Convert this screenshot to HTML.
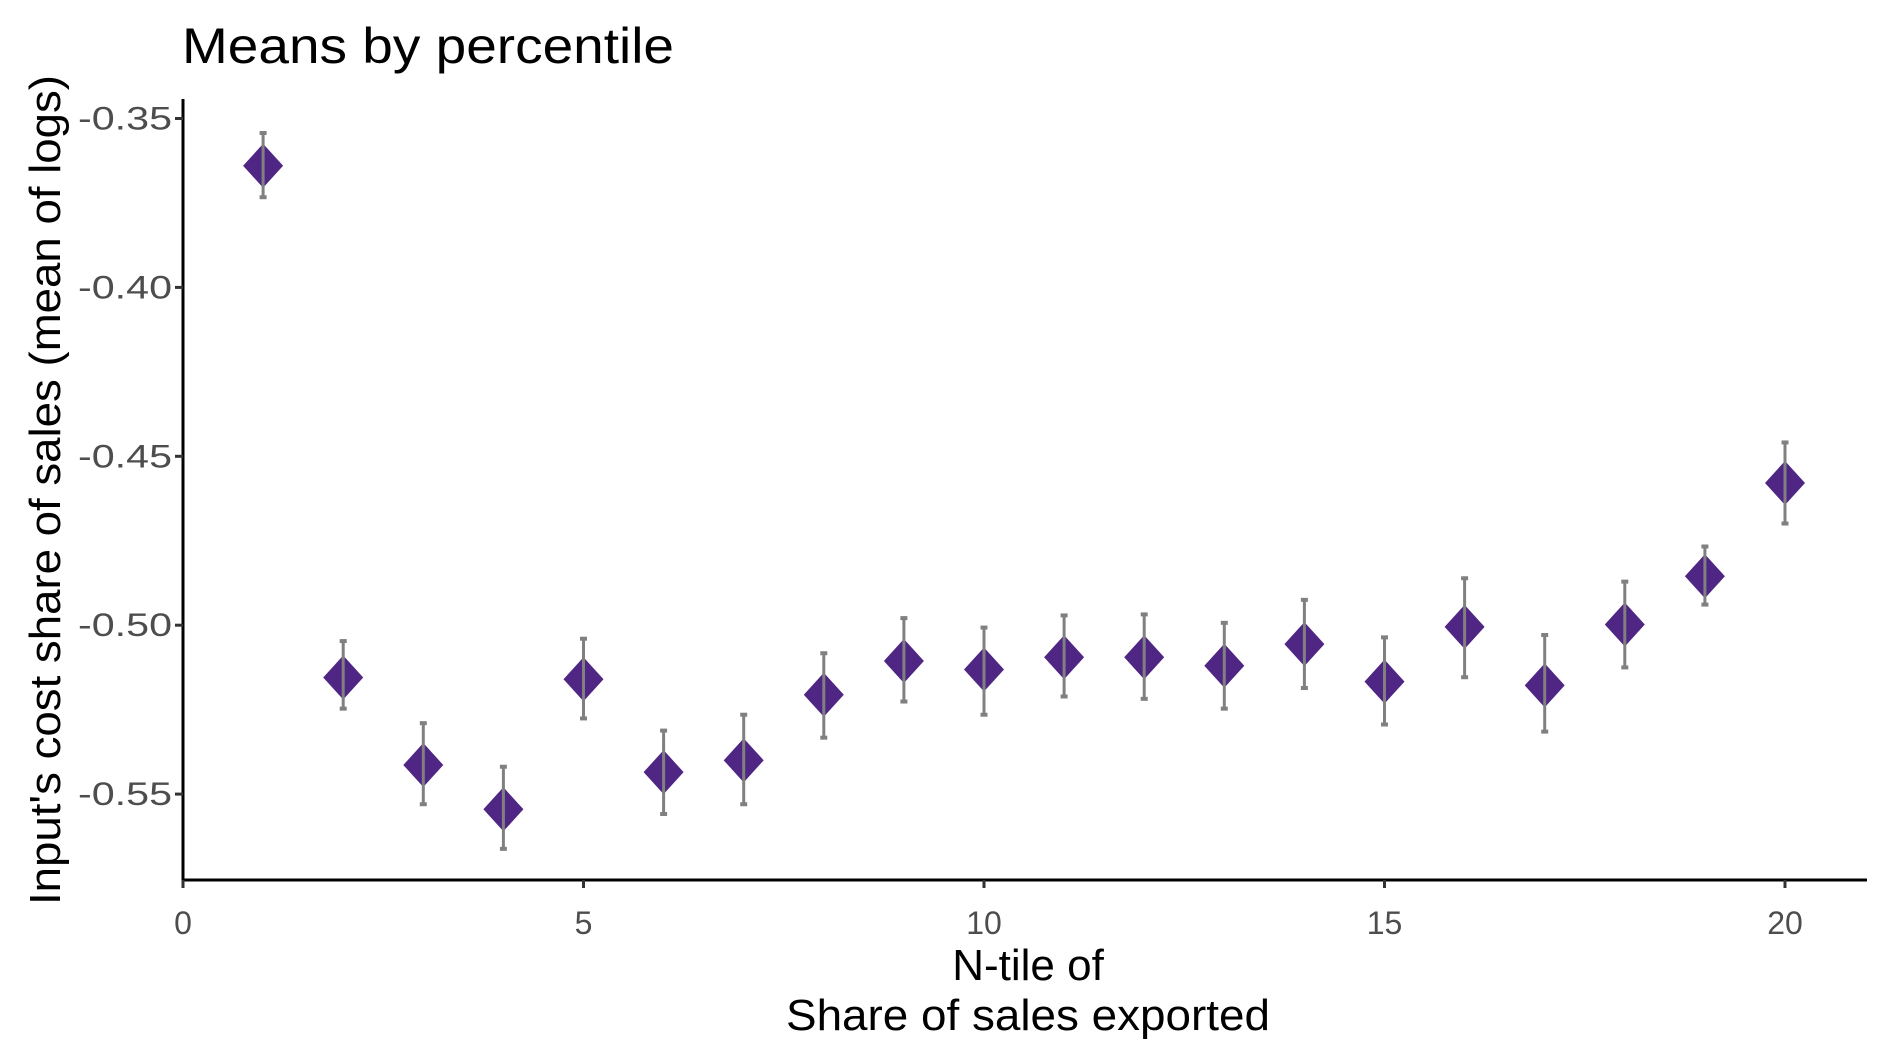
<!DOCTYPE html>
<html><head><meta charset="utf-8"><style>
html,body{margin:0;padding:0;background:#fff;}
svg{display:block;font-family:"Liberation Sans",sans-serif;}
</style></head><body>
<svg id="chart" width="1889" height="1062" viewBox="0 0 1889 1062">
<text x="182" y="63" font-size="50" fill="#000" textLength="492" lengthAdjust="spacingAndGlyphs">Means by percentile</text>
<g id="plot"></g>
<g id="axes"></g>
<text transform="translate(60,490) rotate(-90)" text-anchor="middle" font-size="44" fill="#000" textLength="830" lengthAdjust="spacingAndGlyphs">Input's cost share of sales (mean of logs)</text>
<text x="1028" y="980" text-anchor="middle" font-size="44" fill="#000">N-tile of</text>
<text x="1028" y="1030" text-anchor="middle" font-size="44" fill="#000" textLength="484" lengthAdjust="spacingAndGlyphs">Share of sales exported</text>
</svg>
<script>
const categories = [1,2,3,4,5,6,7,8,9,10,11,12,13,14,15,16,17,18,19,20];
const means = [-0.364,-0.5155,-0.5414,-0.5545,-0.516,-0.5435,-0.540,-0.5206,-0.5106,-0.5131,-0.5095,-0.5095,-0.512,-0.5056,-0.5167,-0.5005,-0.5178,-0.4998,-0.4855,-0.4579];
const highs = [-0.3543,-0.5047,-0.5290,-0.5419,-0.5040,-0.5312,-0.5265,-0.5083,-0.4979,-0.5007,-0.4971,-0.4968,-0.4993,-0.4925,-0.5036,-0.4861,-0.5029,-0.4871,-0.4767,-0.4459];
const lows = [-0.3733,-0.5247,-0.5530,-0.5662,-0.5276,-0.5559,-0.5530,-0.5333,-0.5226,-0.5265,-0.5211,-0.5218,-0.5247,-0.5186,-0.5294,-0.5154,-0.5315,-0.5125,-0.4939,-0.4699];
const xTicks = [0,5,10,15,20];
const yTicks = [-0.35,-0.40,-0.45,-0.50,-0.55];
const yTickLabels = ["-0.35","-0.40","-0.45","-0.50","-0.55"];

const NS="http://www.w3.org/2000/svg";
const X0=183, XPU=80.1;
function xs(v){return X0+v*XPU;}
const Y35=118.5, YP=168.9/0.05;
function ys(v){return Y35+(-0.35-v)*YP;}
const plot=document.getElementById('plot'), axes=document.getElementById('axes');
function mk(tag,attrs,parent){const e=document.createElementNS(NS,tag);for(const k in attrs)e.setAttribute(k,attrs[k]);parent.appendChild(e);return e;}

categories.forEach((c,i)=>{
  const x=xs(c), y=ys(means[i]);
  const d=mk('path',{d:`M${x-20},${y} L${x},${y-22} L${x+20},${y} L${x},${y+22} Z`,fill:'#4f2683'},plot);
  
  
  const g=mk('g',{stroke:'#808080','stroke-width':3,fill:'none'},plot);
  
  
  const yh=ys(highs[i]), yl=ys(lows[i]);
  mk('line',{x1:x,x2:x,y1:yh,y2:yl},g);
  mk('line',{x1:x-3.5,x2:x+3.5,y1:yh,y2:yh,'stroke-width':4},g);
  mk('line',{x1:x-3.5,x2:x+3.5,y1:yl,y2:yl,'stroke-width':4},g);
});

const AXY=880, AXTOP=99, AXR=1867;
const ya=mk('line',{x1:X0,x2:X0,y1:AXTOP,y2:AXY+1.5,stroke:'#000','stroke-width':3},axes);


const xa=mk('line',{x1:X0-1.5,x2:AXR,y1:AXY,y2:AXY,stroke:'#000','stroke-width':3},axes);


xTicks.forEach(t=>{
  const x=xs(t);
  mk('line',{x1:x,x2:x,y1:AXY,y2:AXY+8,stroke:'#333','stroke-width':3},axes);
  const tx=mk('text',{x:x,y:934,'text-anchor':'middle','font-size':32,fill:'#4d4d4d'},axes);
  tx.textContent=t;
  
  
});
yTicks.forEach((t,i)=>{
  const y=ys(t);
  mk('line',{x1:X0-8,x2:X0,y1:y,y2:y,stroke:'#333','stroke-width':3},axes);
  const tx=mk('text',{x:172,y:y+11,'text-anchor':'end','font-size':32,fill:'#4d4d4d','textLength':94,'lengthAdjust':'spacingAndGlyphs'},axes);
  tx.textContent=yTickLabels[i];
  
  
});
</script>
</body></html>
